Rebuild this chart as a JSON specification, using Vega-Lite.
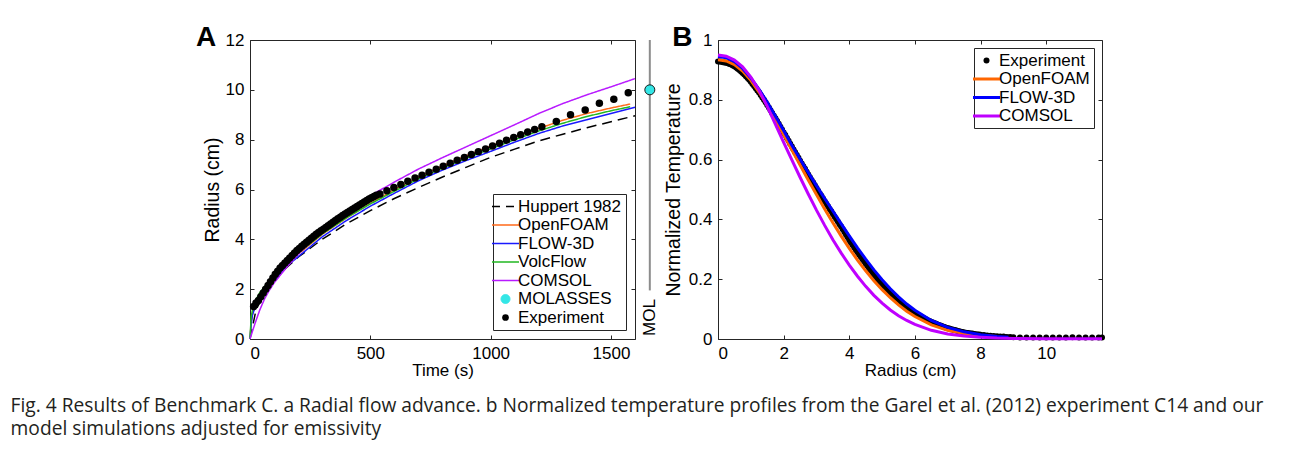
{
  "$schema": "https://vega.github.io/schema/vega-lite/v6.json",
  "background": "white",
  "padding": {"left": 10, "right": 10, "top": 23, "bottom": 5},
  "spacing": 0,
  "config": {
    "font": "Liberation Sans",
    "view": {"stroke": "#262626", "strokeWidth": 1},
    "axis": {"grid": false, "domain": false, "tickSize": -4, "tickColor": "#262626", "tickWidth": 1, "labelFont": "Liberation Sans", "labelFontSize": 17, "labelColor": "#000000", "titleFont": "Liberation Sans", "titleFontSize": 17, "titleFontWeight": "normal", "titleColor": "#000000", "labelPadding": 10},
    "legend": {"labelFont": "Liberation Sans", "labelFontSize": 17, "labelColor": "#000000", "strokeColor": "#262626", "fillColor": "white", "padding": 4, "rowPadding": 0.5, "labelOffset": 4}
  },
  "title": {
    "text": ["Fig. 4 Results of Benchmark C. a Radial flow advance. b Normalized temperature profiles from the Garel et al. (2012) experiment C14 and our", "model simulations adjusted for emissivity"],
    "orient": "bottom", "anchor": "start", "frame": "bounds", "font": "Open Sans", "fontSize": 19.2, "fontWeight": "normal", "color": "#231f20", "lineHeight": 23.5, "offset": 18, "dx": -185
  },
  "resolve": {"scale": {"color": "independent", "strokeDash": "independent"}, "legend": {"color": "independent"}},
  "datasets": {
    "a_lines": [
      {"s": "Huppert 1982", "t": 0, "r": 0}, {"s": "Huppert 1982", "t": 25, "r": 1.17}, {"s": "Huppert 1982", "t": 50, "r": 1.65}, {"s": "Huppert 1982", "t": 100, "r": 2.33}, {"s": "Huppert 1982", "t": 150, "r": 2.85}, {"s": "Huppert 1982", "t": 200, "r": 3.28}, {"s": "Huppert 1982", "t": 300, "r": 4.0}, {"s": "Huppert 1982", "t": 400, "r": 4.62}, {"s": "Huppert 1982", "t": 500, "r": 5.15}, {"s": "Huppert 1982", "t": 600, "r": 5.64}, {"s": "Huppert 1982", "t": 700, "r": 6.08}, {"s": "Huppert 1982", "t": 800, "r": 6.5}, {"s": "Huppert 1982", "t": 900, "r": 6.9}, {"s": "Huppert 1982", "t": 1000, "r": 7.29}, {"s": "Huppert 1982", "t": 1100, "r": 7.62}, {"s": "Huppert 1982", "t": 1200, "r": 7.95}, {"s": "Huppert 1982", "t": 1300, "r": 8.22}, {"s": "Huppert 1982", "t": 1400, "r": 8.48}, {"s": "Huppert 1982", "t": 1500, "r": 8.72}, {"s": "Huppert 1982", "t": 1600, "r": 8.96},
      {"s": "OpenFOAM", "t": 0, "r": 0}, {"s": "OpenFOAM", "t": 5, "r": 0.7}, {"s": "OpenFOAM", "t": 10, "r": 1.0}, {"s": "OpenFOAM", "t": 20, "r": 1.35}, {"s": "OpenFOAM", "t": 40, "r": 1.7}, {"s": "OpenFOAM", "t": 60, "r": 1.95}, {"s": "OpenFOAM", "t": 100, "r": 2.45}, {"s": "OpenFOAM", "t": 150, "r": 2.95}, {"s": "OpenFOAM", "t": 200, "r": 3.4}, {"s": "OpenFOAM", "t": 300, "r": 4.2}, {"s": "OpenFOAM", "t": 400, "r": 4.85}, {"s": "OpenFOAM", "t": 500, "r": 5.44}, {"s": "OpenFOAM", "t": 600, "r": 6.0}, {"s": "OpenFOAM", "t": 700, "r": 6.5}, {"s": "OpenFOAM", "t": 800, "r": 6.95}, {"s": "OpenFOAM", "t": 900, "r": 7.36}, {"s": "OpenFOAM", "t": 1000, "r": 7.74}, {"s": "OpenFOAM", "t": 1100, "r": 8.1}, {"s": "OpenFOAM", "t": 1200, "r": 8.45}, {"s": "OpenFOAM", "t": 1300, "r": 8.78}, {"s": "OpenFOAM", "t": 1400, "r": 9.05}, {"s": "OpenFOAM", "t": 1500, "r": 9.27}, {"s": "OpenFOAM", "t": 1580, "r": 9.43},
      {"s": "FLOW-3D", "t": 0, "r": 0}, {"s": "FLOW-3D", "t": 5, "r": 0.6}, {"s": "FLOW-3D", "t": 10, "r": 0.95}, {"s": "FLOW-3D", "t": 20, "r": 1.25}, {"s": "FLOW-3D", "t": 40, "r": 1.55}, {"s": "FLOW-3D", "t": 60, "r": 1.85}, {"s": "FLOW-3D", "t": 100, "r": 2.35}, {"s": "FLOW-3D", "t": 150, "r": 2.9}, {"s": "FLOW-3D", "t": 200, "r": 3.3}, {"s": "FLOW-3D", "t": 300, "r": 4.1}, {"s": "FLOW-3D", "t": 400, "r": 4.75}, {"s": "FLOW-3D", "t": 500, "r": 5.33}, {"s": "FLOW-3D", "t": 600, "r": 5.85}, {"s": "FLOW-3D", "t": 700, "r": 6.35}, {"s": "FLOW-3D", "t": 800, "r": 6.78}, {"s": "FLOW-3D", "t": 900, "r": 7.17}, {"s": "FLOW-3D", "t": 1000, "r": 7.53}, {"s": "FLOW-3D", "t": 1100, "r": 7.9}, {"s": "FLOW-3D", "t": 1200, "r": 8.25}, {"s": "FLOW-3D", "t": 1300, "r": 8.55}, {"s": "FLOW-3D", "t": 1400, "r": 8.8}, {"s": "FLOW-3D", "t": 1500, "r": 9.05}, {"s": "FLOW-3D", "t": 1600, "r": 9.3},
      {"s": "VolcFlow", "t": 0, "r": 0}, {"s": "VolcFlow", "t": 5, "r": 0.9}, {"s": "VolcFlow", "t": 10, "r": 1.15}, {"s": "VolcFlow", "t": 20, "r": 1.5}, {"s": "VolcFlow", "t": 40, "r": 1.85}, {"s": "VolcFlow", "t": 60, "r": 2.1}, {"s": "VolcFlow", "t": 100, "r": 2.55}, {"s": "VolcFlow", "t": 150, "r": 3.05}, {"s": "VolcFlow", "t": 200, "r": 3.45}, {"s": "VolcFlow", "t": 300, "r": 4.22}, {"s": "VolcFlow", "t": 400, "r": 4.86}, {"s": "VolcFlow", "t": 500, "r": 5.42}, {"s": "VolcFlow", "t": 600, "r": 5.93}, {"s": "VolcFlow", "t": 700, "r": 6.43}, {"s": "VolcFlow", "t": 800, "r": 6.86}, {"s": "VolcFlow", "t": 900, "r": 7.26}, {"s": "VolcFlow", "t": 1000, "r": 7.63}, {"s": "VolcFlow", "t": 1100, "r": 8.0}, {"s": "VolcFlow", "t": 1200, "r": 8.35}, {"s": "VolcFlow", "t": 1300, "r": 8.66}, {"s": "VolcFlow", "t": 1400, "r": 8.93}, {"s": "VolcFlow", "t": 1500, "r": 9.16}, {"s": "VolcFlow", "t": 1580, "r": 9.32},
      {"s": "COMSOL", "t": 0, "r": 0}, {"s": "COMSOL", "t": 20, "r": 0.6}, {"s": "COMSOL", "t": 40, "r": 1.15}, {"s": "COMSOL", "t": 60, "r": 1.6}, {"s": "COMSOL", "t": 80, "r": 1.95}, {"s": "COMSOL", "t": 100, "r": 2.25}, {"s": "COMSOL", "t": 150, "r": 2.85}, {"s": "COMSOL", "t": 200, "r": 3.4}, {"s": "COMSOL", "t": 300, "r": 4.35}, {"s": "COMSOL", "t": 400, "r": 5.1}, {"s": "COMSOL", "t": 500, "r": 5.75}, {"s": "COMSOL", "t": 600, "r": 6.3}, {"s": "COMSOL", "t": 700, "r": 6.82}, {"s": "COMSOL", "t": 800, "r": 7.28}, {"s": "COMSOL", "t": 900, "r": 7.72}, {"s": "COMSOL", "t": 1000, "r": 8.16}, {"s": "COMSOL", "t": 1100, "r": 8.6}, {"s": "COMSOL", "t": 1200, "r": 9.05}, {"s": "COMSOL", "t": 1300, "r": 9.45}, {"s": "COMSOL", "t": 1400, "r": 9.8}, {"s": "COMSOL", "t": 1500, "r": 10.12}, {"s": "COMSOL", "t": 1600, "r": 10.45}
    ],
    "a_exp": [
      {"t": 15, "r": 1.3}, {"t": 25, "r": 1.45}, {"t": 35, "r": 1.55}, {"t": 45, "r": 1.7}, {"t": 55, "r": 1.85}, {"t": 65, "r": 2.0}, {"t": 75, "r": 2.15}, {"t": 85, "r": 2.3}, {"t": 95, "r": 2.45}, {"t": 105, "r": 2.6}, {"t": 115, "r": 2.72}, {"t": 125, "r": 2.85}, {"t": 135, "r": 2.95}, {"t": 145, "r": 3.05}, {"t": 155, "r": 3.15}, {"t": 165, "r": 3.25}, {"t": 175, "r": 3.35}, {"t": 185, "r": 3.45}, {"t": 195, "r": 3.55}, {"t": 205, "r": 3.63}, {"t": 215, "r": 3.72}, {"t": 225, "r": 3.8}, {"t": 235, "r": 3.88}, {"t": 245, "r": 3.96}, {"t": 255, "r": 4.04}, {"t": 265, "r": 4.12}, {"t": 275, "r": 4.2}, {"t": 285, "r": 4.27}, {"t": 295, "r": 4.34}, {"t": 305, "r": 4.41}, {"t": 315, "r": 4.48}, {"t": 325, "r": 4.55}, {"t": 335, "r": 4.62}, {"t": 345, "r": 4.69}, {"t": 355, "r": 4.76}, {"t": 365, "r": 4.83}, {"t": 375, "r": 4.89}, {"t": 385, "r": 4.96}, {"t": 395, "r": 5.02}, {"t": 405, "r": 5.08}, {"t": 415, "r": 5.14}, {"t": 425, "r": 5.2}, {"t": 435, "r": 5.26}, {"t": 445, "r": 5.32}, {"t": 455, "r": 5.38}, {"t": 465, "r": 5.44}, {"t": 475, "r": 5.5}, {"t": 485, "r": 5.56}, {"t": 495, "r": 5.62}, {"t": 505, "r": 5.67}, {"t": 515, "r": 5.72}, {"t": 525, "r": 5.77},
      {"t": 540, "r": 5.82}, {"t": 569, "r": 5.95}, {"t": 598, "r": 6.08}, {"t": 627, "r": 6.2}, {"t": 656, "r": 6.33}, {"t": 686, "r": 6.46}, {"t": 715, "r": 6.57}, {"t": 744, "r": 6.69}, {"t": 774, "r": 6.81}, {"t": 803, "r": 6.93}, {"t": 832, "r": 7.05}, {"t": 861, "r": 7.17}, {"t": 891, "r": 7.28}, {"t": 920, "r": 7.4}, {"t": 949, "r": 7.52}, {"t": 979, "r": 7.63}, {"t": 1008, "r": 7.75}, {"t": 1037, "r": 7.86}, {"t": 1066, "r": 7.98}, {"t": 1096, "r": 8.09}, {"t": 1125, "r": 8.2}, {"t": 1154, "r": 8.31}, {"t": 1183, "r": 8.41}, {"t": 1213, "r": 8.52}, {"t": 1273, "r": 8.73}, {"t": 1332, "r": 9.0}, {"t": 1393, "r": 9.19}, {"t": 1452, "r": 9.46}, {"t": 1512, "r": 9.62}, {"t": 1572, "r": 9.88}
    ],
    "mol": [{"k": "MOL", "r": 10}],
    "b_lines": [
      {"s": "OpenFOAM", "r": 0, "T": 0.934}, {"s": "OpenFOAM", "r": 0.25, "T": 0.93}, {"s": "OpenFOAM", "r": 0.5, "T": 0.918}, {"s": "OpenFOAM", "r": 0.75, "T": 0.896}, {"s": "OpenFOAM", "r": 1.0, "T": 0.865}, {"s": "OpenFOAM", "r": 1.25, "T": 0.826}, {"s": "OpenFOAM", "r": 1.5, "T": 0.782}, {"s": "OpenFOAM", "r": 1.75, "T": 0.734}, {"s": "OpenFOAM", "r": 2.0, "T": 0.684}, {"s": "OpenFOAM", "r": 2.25, "T": 0.633}, {"s": "OpenFOAM", "r": 2.5, "T": 0.582}, {"s": "OpenFOAM", "r": 2.75, "T": 0.532}, {"s": "OpenFOAM", "r": 3.0, "T": 0.483}, {"s": "OpenFOAM", "r": 3.25, "T": 0.435}, {"s": "OpenFOAM", "r": 3.5, "T": 0.389}, {"s": "OpenFOAM", "r": 3.75, "T": 0.345}, {"s": "OpenFOAM", "r": 4.0, "T": 0.303}, {"s": "OpenFOAM", "r": 4.25, "T": 0.264}, {"s": "OpenFOAM", "r": 4.5, "T": 0.228}, {"s": "OpenFOAM", "r": 4.75, "T": 0.195}, {"s": "OpenFOAM", "r": 5.0, "T": 0.165}, {"s": "OpenFOAM", "r": 5.25, "T": 0.138}, {"s": "OpenFOAM", "r": 5.5, "T": 0.114}, {"s": "OpenFOAM", "r": 5.75, "T": 0.093}, {"s": "OpenFOAM", "r": 6.0, "T": 0.075}, {"s": "OpenFOAM", "r": 6.5, "T": 0.047}, {"s": "OpenFOAM", "r": 7.0, "T": 0.029}, {"s": "OpenFOAM", "r": 7.5, "T": 0.018}, {"s": "OpenFOAM", "r": 8.0, "T": 0.012}, {"s": "OpenFOAM", "r": 8.5, "T": 0.008},
      {"s": "FLOW-3D", "r": 0, "T": 0.945}, {"s": "FLOW-3D", "r": 0.25, "T": 0.941}, {"s": "FLOW-3D", "r": 0.5, "T": 0.928}, {"s": "FLOW-3D", "r": 0.75, "T": 0.905}, {"s": "FLOW-3D", "r": 1.0, "T": 0.873}, {"s": "FLOW-3D", "r": 1.25, "T": 0.835}, {"s": "FLOW-3D", "r": 1.5, "T": 0.792}, {"s": "FLOW-3D", "r": 1.75, "T": 0.745}, {"s": "FLOW-3D", "r": 2.0, "T": 0.697}, {"s": "FLOW-3D", "r": 2.25, "T": 0.648}, {"s": "FLOW-3D", "r": 2.5, "T": 0.602}, {"s": "FLOW-3D", "r": 2.75, "T": 0.557}, {"s": "FLOW-3D", "r": 3.0, "T": 0.513}, {"s": "FLOW-3D", "r": 3.25, "T": 0.47}, {"s": "FLOW-3D", "r": 3.5, "T": 0.428}, {"s": "FLOW-3D", "r": 3.75, "T": 0.386}, {"s": "FLOW-3D", "r": 4.0, "T": 0.345}, {"s": "FLOW-3D", "r": 4.25, "T": 0.305}, {"s": "FLOW-3D", "r": 4.5, "T": 0.267}, {"s": "FLOW-3D", "r": 4.75, "T": 0.231}, {"s": "FLOW-3D", "r": 5.0, "T": 0.198}, {"s": "FLOW-3D", "r": 5.25, "T": 0.168}, {"s": "FLOW-3D", "r": 5.5, "T": 0.141}, {"s": "FLOW-3D", "r": 5.75, "T": 0.117}, {"s": "FLOW-3D", "r": 6.0, "T": 0.096}, {"s": "FLOW-3D", "r": 6.5, "T": 0.062}, {"s": "FLOW-3D", "r": 7.0, "T": 0.039}, {"s": "FLOW-3D", "r": 7.5, "T": 0.024}, {"s": "FLOW-3D", "r": 8.0, "T": 0.014}, {"s": "FLOW-3D", "r": 8.5, "T": 0.008}, {"s": "FLOW-3D", "r": 8.85, "T": 0.006},
      {"s": "COMSOL", "r": 0, "T": 0.95}, {"s": "COMSOL", "r": 0.25, "T": 0.946}, {"s": "COMSOL", "r": 0.5, "T": 0.933}, {"s": "COMSOL", "r": 0.75, "T": 0.91}, {"s": "COMSOL", "r": 1.0, "T": 0.876}, {"s": "COMSOL", "r": 1.25, "T": 0.832}, {"s": "COMSOL", "r": 1.5, "T": 0.778}, {"s": "COMSOL", "r": 1.75, "T": 0.718}, {"s": "COMSOL", "r": 2.0, "T": 0.658}, {"s": "COMSOL", "r": 2.25, "T": 0.599}, {"s": "COMSOL", "r": 2.5, "T": 0.541}, {"s": "COMSOL", "r": 2.75, "T": 0.485}, {"s": "COMSOL", "r": 3.0, "T": 0.431}, {"s": "COMSOL", "r": 3.25, "T": 0.38}, {"s": "COMSOL", "r": 3.5, "T": 0.332}, {"s": "COMSOL", "r": 3.75, "T": 0.288}, {"s": "COMSOL", "r": 4.0, "T": 0.247}, {"s": "COMSOL", "r": 4.25, "T": 0.21}, {"s": "COMSOL", "r": 4.5, "T": 0.176}, {"s": "COMSOL", "r": 4.75, "T": 0.146}, {"s": "COMSOL", "r": 5.0, "T": 0.12}, {"s": "COMSOL", "r": 5.25, "T": 0.097}, {"s": "COMSOL", "r": 5.5, "T": 0.078}, {"s": "COMSOL", "r": 5.75, "T": 0.062}, {"s": "COMSOL", "r": 6.0, "T": 0.049}, {"s": "COMSOL", "r": 6.5, "T": 0.029}, {"s": "COMSOL", "r": 7.0, "T": 0.017}, {"s": "COMSOL", "r": 7.5, "T": 0.01}, {"s": "COMSOL", "r": 8.0, "T": 0.006}, {"s": "COMSOL", "r": 8.5, "T": 0.003}, {"s": "COMSOL", "r": 9.0, "T": 0.002}, {"s": "COMSOL", "r": 10.0, "T": 0.001}, {"s": "COMSOL", "r": 11.7, "T": 0.001}
    ],
    "b_exp": [
      {"r": 0.0, "T": 0.928}, {"r": 0.05, "T": 0.928}, {"r": 0.1, "T": 0.927}, {"r": 0.15, "T": 0.926}, {"r": 0.2, "T": 0.925}, {"r": 0.25, "T": 0.924}, {"r": 0.3, "T": 0.922}, {"r": 0.35, "T": 0.92}, {"r": 0.4, "T": 0.918}, {"r": 0.45, "T": 0.915}, {"r": 0.5, "T": 0.912}, {"r": 0.55, "T": 0.908}, {"r": 0.6, "T": 0.904}, {"r": 0.65, "T": 0.9}, {"r": 0.7, "T": 0.895}, {"r": 0.75, "T": 0.89}, {"r": 0.8, "T": 0.885}, {"r": 0.85, "T": 0.879}, {"r": 0.9, "T": 0.873}, {"r": 0.95, "T": 0.867},
      {"r": 1.0, "T": 0.86}, {"r": 1.05, "T": 0.853}, {"r": 1.1, "T": 0.846}, {"r": 1.15, "T": 0.839}, {"r": 1.2, "T": 0.831}, {"r": 1.25, "T": 0.824}, {"r": 1.3, "T": 0.816}, {"r": 1.35, "T": 0.808}, {"r": 1.4, "T": 0.8}, {"r": 1.45, "T": 0.792}, {"r": 1.5, "T": 0.783}, {"r": 1.55, "T": 0.774}, {"r": 1.6, "T": 0.765}, {"r": 1.65, "T": 0.756}, {"r": 1.7, "T": 0.747}, {"r": 1.75, "T": 0.738}, {"r": 1.8, "T": 0.729}, {"r": 1.85, "T": 0.72}, {"r": 1.9, "T": 0.71}, {"r": 1.95, "T": 0.701},
      {"r": 2.0, "T": 0.691}, {"r": 2.05, "T": 0.682}, {"r": 2.1, "T": 0.672}, {"r": 2.15, "T": 0.663}, {"r": 2.2, "T": 0.653}, {"r": 2.25, "T": 0.644}, {"r": 2.3, "T": 0.634}, {"r": 2.35, "T": 0.625}, {"r": 2.4, "T": 0.615}, {"r": 2.45, "T": 0.606}, {"r": 2.5, "T": 0.596}, {"r": 2.55, "T": 0.587}, {"r": 2.6, "T": 0.578}, {"r": 2.65, "T": 0.569}, {"r": 2.7, "T": 0.559}, {"r": 2.75, "T": 0.55}, {"r": 2.8, "T": 0.541}, {"r": 2.85, "T": 0.532}, {"r": 2.9, "T": 0.523}, {"r": 2.95, "T": 0.514},
      {"r": 3.0, "T": 0.505}, {"r": 3.05, "T": 0.496}, {"r": 3.1, "T": 0.487}, {"r": 3.15, "T": 0.479}, {"r": 3.2, "T": 0.47}, {"r": 3.25, "T": 0.461}, {"r": 3.3, "T": 0.452}, {"r": 3.35, "T": 0.444}, {"r": 3.4, "T": 0.435}, {"r": 3.45, "T": 0.427}, {"r": 3.5, "T": 0.418}, {"r": 3.55, "T": 0.41}, {"r": 3.6, "T": 0.401}, {"r": 3.65, "T": 0.393}, {"r": 3.7, "T": 0.384}, {"r": 3.75, "T": 0.376}, {"r": 3.8, "T": 0.367}, {"r": 3.85, "T": 0.358}, {"r": 3.9, "T": 0.349}, {"r": 3.95, "T": 0.34},
      {"r": 4.0, "T": 0.33}, {"r": 4.05, "T": 0.322}, {"r": 4.1, "T": 0.314}, {"r": 4.15, "T": 0.306}, {"r": 4.2, "T": 0.298}, {"r": 4.25, "T": 0.29}, {"r": 4.3, "T": 0.282}, {"r": 4.35, "T": 0.275}, {"r": 4.4, "T": 0.267}, {"r": 4.45, "T": 0.26}, {"r": 4.5, "T": 0.252}, {"r": 4.55, "T": 0.245}, {"r": 4.6, "T": 0.237}, {"r": 4.65, "T": 0.23}, {"r": 4.7, "T": 0.222}, {"r": 4.75, "T": 0.215}, {"r": 4.8, "T": 0.208}, {"r": 4.85, "T": 0.202}, {"r": 4.9, "T": 0.195}, {"r": 4.95, "T": 0.189},
      {"r": 5.0, "T": 0.183}, {"r": 5.05, "T": 0.177}, {"r": 5.1, "T": 0.171}, {"r": 5.15, "T": 0.166}, {"r": 5.2, "T": 0.16}, {"r": 5.25, "T": 0.155}, {"r": 5.3, "T": 0.149}, {"r": 5.35, "T": 0.144}, {"r": 5.4, "T": 0.138}, {"r": 5.45, "T": 0.133}, {"r": 5.5, "T": 0.128}, {"r": 5.55, "T": 0.124}, {"r": 5.6, "T": 0.119}, {"r": 5.65, "T": 0.115}, {"r": 5.7, "T": 0.11}, {"r": 5.75, "T": 0.106}, {"r": 5.8, "T": 0.102}, {"r": 5.85, "T": 0.098}, {"r": 5.9, "T": 0.094}, {"r": 5.95, "T": 0.09},
      {"r": 6.0, "T": 0.086}, {"r": 6.05, "T": 0.083}, {"r": 6.1, "T": 0.08}, {"r": 6.15, "T": 0.077}, {"r": 6.2, "T": 0.074}, {"r": 6.25, "T": 0.071}, {"r": 6.3, "T": 0.068}, {"r": 6.35, "T": 0.065}, {"r": 6.4, "T": 0.062}, {"r": 6.45, "T": 0.06}, {"r": 6.5, "T": 0.057}, {"r": 6.55, "T": 0.055}, {"r": 6.6, "T": 0.053}, {"r": 6.65, "T": 0.051}, {"r": 6.7, "T": 0.048}, {"r": 6.75, "T": 0.046}, {"r": 6.8, "T": 0.044}, {"r": 6.85, "T": 0.042}, {"r": 6.9, "T": 0.04}, {"r": 6.95, "T": 0.038},
      {"r": 7.0, "T": 0.036}, {"r": 7.05, "T": 0.035}, {"r": 7.1, "T": 0.033}, {"r": 7.15, "T": 0.032}, {"r": 7.2, "T": 0.03}, {"r": 7.25, "T": 0.029}, {"r": 7.3, "T": 0.027}, {"r": 7.35, "T": 0.026}, {"r": 7.4, "T": 0.024}, {"r": 7.45, "T": 0.023}, {"r": 7.5, "T": 0.022}, {"r": 7.55, "T": 0.021}, {"r": 7.6, "T": 0.02}, {"r": 7.65, "T": 0.019}, {"r": 7.7, "T": 0.018}, {"r": 7.75, "T": 0.018}, {"r": 7.8, "T": 0.017}, {"r": 7.85, "T": 0.016}, {"r": 7.9, "T": 0.015}, {"r": 7.95, "T": 0.015},
      {"r": 8.0, "T": 0.014}, {"r": 8.1, "T": 0.013}, {"r": 8.2, "T": 0.012}, {"r": 8.3, "T": 0.011}, {"r": 8.4, "T": 0.01}, {"r": 8.5, "T": 0.009}, {"r": 8.6, "T": 0.008}, {"r": 8.7, "T": 0.008}, {"r": 8.8, "T": 0.007}, {"r": 8.9, "T": 0.007}, {"r": 9.0, "T": 0.006}, {"r": 9.2, "T": 0.005}, {"r": 9.4, "T": 0.005}, {"r": 9.6, "T": 0.005}, {"r": 9.8, "T": 0.005},
      {"r": 10.0, "T": 0.005}, {"r": 10.2, "T": 0.005}, {"r": 10.4, "T": 0.005}, {"r": 10.6, "T": 0.005}, {"r": 10.8, "T": 0.006}, {"r": 11.0, "T": 0.005}, {"r": 11.2, "T": 0.005}, {"r": 11.4, "T": 0.005}, {"r": 11.6, "T": 0.005}, {"r": 11.7, "T": 0.005}
    ]
  },
  "hconcat": [
    {
      "width": 385, "height": 299,
      "title": {"text": "A", "anchor": "start", "frame": "bounds", "font": "Liberation Sans", "fontSize": 28, "fontWeight": "bold", "color": "#000000", "baseline": "alphabetic", "offset": -15, "dx": -6, "dy": 28},
      "resolve": {"axis": {"x": "independent", "y": "independent"}},
      "layer": [
        {
          "data": {"name": "a_lines"},
          "mark": {"type": "line", "strokeWidth": 1.5},
          "encoding": {
            "x": {"field": "t", "type": "quantitative", "scale": {"domain": [0, 1600], "nice": false}, "axis": {"title": "Time (s)", "values": [0, 500, 1000, 1500], "format": "d", "titlePadding": 1}},
            "y": {"field": "r", "type": "quantitative", "scale": {"domain": [0, 12], "nice": false}, "axis": {"title": "Radius (cm)", "titleFontSize": 19.5, "values": [0, 2, 4, 6, 8, 10, 12], "titlePadding": 3}},
            "color": {
              "field": "s", "type": "nominal",
              "scale": {"domain": ["Huppert 1982", "OpenFOAM", "FLOW-3D", "VolcFlow", "COMSOL", "MOLASSES", "Experiment"], "range": ["#000000", "#ff6a1a", "#1a1aff", "#22b822", "#b81aff", "#33e6e6", "#000000"]},
              "legend": {
                "title": null, "orient": "bottom-right", "offset": 9, "symbolType": "stroke", "symbolSize": 841, "symbolStrokeWidth": 1.5,
                "encode": {"symbols": {"update": {
                  "shape": {"signal": "datum.value === 'MOLASSES' || datum.value === 'Experiment' ? 'circle' : 'stroke'"},
                  "size": {"signal": "datum.value === 'MOLASSES' ? 81 : datum.value === 'Experiment' ? 45 : 729"},
                  "fill": {"signal": "datum.value === 'MOLASSES' ? '#33e6e6' : datum.value === 'Experiment' ? '#000000' : 'transparent'"},
                  "stroke": {"signal": "datum.value === 'MOLASSES' ? '#222222' : datum.value === 'OpenFOAM' ? '#ff6a1a' : datum.value === 'FLOW-3D' ? '#1a1aff' : datum.value === 'VolcFlow' ? '#22b822' : datum.value === 'COMSOL' ? '#b81aff' : '#000000'"},
                  "strokeWidth": {"signal": "datum.value === 'MOLASSES' ? 1 : datum.value === 'Experiment' ? 0 : 1.5"},
                  "strokeDash": {"signal": "datum.value === 'Huppert 1982' ? [8, 6] : [1, 0]"},
                  "opacity": {"value": 1}
                }}}
              }
            },
            "strokeDash": {"field": "s", "type": "nominal", "scale": {"domain": ["Huppert 1982", "OpenFOAM", "FLOW-3D", "VolcFlow", "COMSOL"], "range": [[10, 6], [1, 0], [1, 0], [1, 0], [1, 0]]}, "legend": null}
          }
        },
        {
          "data": {"name": "a_exp"},
          "mark": {"type": "circle", "size": 56, "color": "#000000", "opacity": 1},
          "encoding": {
            "x": {"field": "t", "type": "quantitative", "axis": {"orient": "top", "labels": false, "title": null, "values": [0, 500, 1000, 1500]}},
            "y": {"field": "r", "type": "quantitative", "axis": {"orient": "right", "labels": false, "title": null, "values": [0, 2, 4, 6, 8, 10, 12]}}
          }
        }
      ]
    },
    {
      "width": 23, "height": 299,
      "view": {"stroke": null},
      "data": {"name": "mol"},
      "layer": [
        {
          "mark": {"type": "rule", "color": "#8c8c8c", "strokeWidth": 2},
          "encoding": {
            "x": {"field": "k", "type": "nominal", "scale": {"type": "point", "align": 0.47}, "axis": null},
            "y": {"datum": 12, "type": "quantitative", "scale": {"domain": [0, 12], "nice": false}, "axis": null},
            "y2": {"datum": 1.95}
          }
        },
        {
          "mark": {"type": "point", "filled": true, "fill": "#33e6e6", "stroke": "#1a1a1a", "strokeWidth": 1, "size": 100, "opacity": 1},
          "encoding": {
            "x": {"field": "k", "type": "nominal"},
            "y": {"field": "r", "type": "quantitative"}
          }
        },
        {
          "mark": {"type": "text", "angle": 270, "align": "left", "baseline": "middle", "font": "Liberation Sans", "fontSize": 17, "color": "#000000", "dx": 3},
          "encoding": {
            "x": {"field": "k", "type": "nominal"},
            "y": {"datum": 0, "type": "quantitative"},
            "text": {"field": "k"}
          }
        }
      ]
    },
    {
      "width": 384, "height": 299,
      "title": {"text": "B", "anchor": "start", "frame": "bounds", "font": "Liberation Sans", "fontSize": 28, "fontWeight": "bold", "color": "#000000", "baseline": "alphabetic", "offset": -15, "dx": 9, "dy": 28},
      "resolve": {"axis": {"x": "independent", "y": "independent"}},
      "layer": [
        {
          "data": {"name": "b_exp"},
          "mark": {"type": "circle", "size": 36, "color": "#000000", "opacity": 1},
          "encoding": {
            "x": {"field": "r", "type": "quantitative", "scale": {"domain": [0, 11.7], "nice": false}, "axis": {"title": "Radius (cm)", "values": [0, 2, 4, 6, 8, 10], "titlePadding": 1}},
            "y": {"field": "T", "type": "quantitative", "scale": {"domain": [0, 1], "nice": false}, "axis": {"title": "Normalized Temperature", "titleFontSize": 19.5, "values": [0, 0.2, 0.4, 0.6, 0.8, 1], "format": "~g", "titlePadding": 5}}
          }
        },
        {
          "data": {"name": "b_lines"},
          "mark": {"type": "line", "strokeWidth": 3},
          "encoding": {
            "x": {"field": "r", "type": "quantitative", "axis": {"orient": "top", "labels": false, "title": null, "values": [0, 2, 4, 6, 8, 10]}},
            "y": {"field": "T", "type": "quantitative", "axis": {"orient": "right", "labels": false, "title": null, "values": [0, 0.2, 0.4, 0.6, 0.8, 1]}},
            "color": {
              "field": "s", "type": "nominal",
              "scale": {"domain": ["Experiment", "OpenFOAM", "FLOW-3D", "COMSOL"], "range": ["#000000", "#ff6600", "#0000ff", "#bf00ff"]},
              "legend": {
                "title": null, "orient": "top-right", "offset": 8, "symbolType": "stroke", "symbolSize": 841, "symbolStrokeWidth": 3,
                "encode": {"symbols": {"update": {
                  "shape": {"signal": "datum.value === 'Experiment' ? 'circle' : 'stroke'"},
                  "size": {"signal": "datum.value === 'Experiment' ? 36 : 729"},
                  "fill": {"signal": "datum.value === 'Experiment' ? '#000000' : 'transparent'"},
                  "strokeWidth": {"signal": "datum.value === 'Experiment' ? 0 : 3"},
                  "opacity": {"value": 1}
                }}}
              }
            }
          }
        }
      ]
    }
  ]
}
